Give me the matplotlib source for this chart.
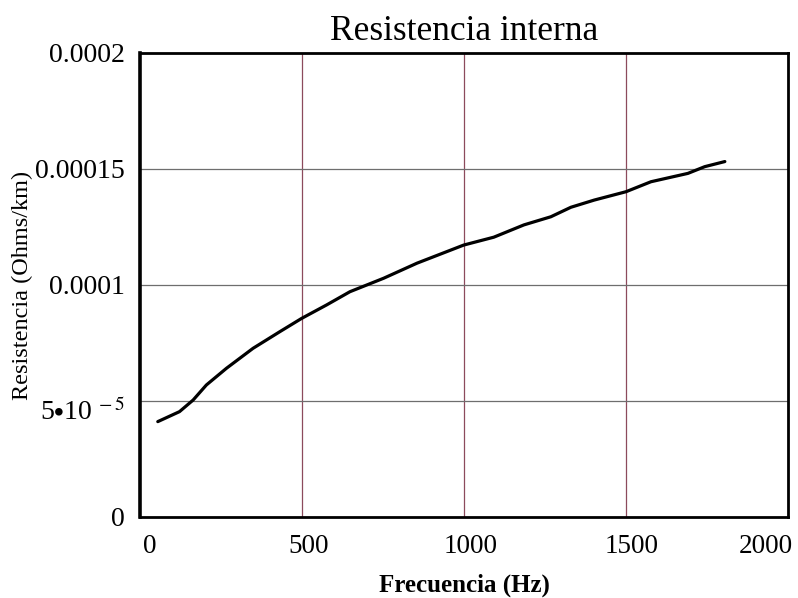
import matplotlib
matplotlib.use("Agg")
import matplotlib.pyplot as plt
from matplotlib.transforms import ScaledTranslation

# frequency (Hz) and internal resistance (Ohms/km)
freq_hz = [55, 122, 164, 205, 267, 349, 432, 499, 576, 648, 752, 855, 999,
           1092, 1185, 1268, 1330, 1402, 1500, 1577, 1691, 1743, 1805]
resist = [4.11e-5, 4.54e-5, 5.04e-5, 5.69e-5, 6.41e-5, 7.27e-5, 7.99e-5,
          8.56e-5, 9.14e-5, 9.71e-5, 1.029e-4, 1.094e-4, 1.172e-4, 1.206e-4,
          1.259e-4, 1.294e-4, 1.335e-4, 1.366e-4, 1.402e-4, 1.445e-4,
          1.481e-4, 1.510e-4, 1.532e-4]

x_ticks = [0, 500, 1000, 1500, 2000]
x_labels = ["0", "500", "1000", "1500", "2000"]
y_ticks = [0, 5e-5, 1e-4, 1.5e-4, 2e-4]
y_labels = ["0", r"5$\bullet$10$^{\;-5}$", "0.0001", "0.00015", "0.0002"]

plt.rcParams["font.family"] = ["Liberation Serif", "DejaVu Serif"]
plt.rcParams["mathtext.fontset"] = "stix"

fig = plt.figure(figsize=(7.98, 5.98), dpi=100)
ax = fig.add_axes([0.1754, 0.1355, 0.8121, 0.7759])

ax.plot(freq_hz, resist, color="black", linewidth=2.3,
        solid_capstyle="round", solid_joinstyle="round")

ax.set_xlim(0, 2000)
ax.set_ylim(0, 2e-4)
ax.set_xticks(x_ticks)
ax.set_xticklabels(x_labels, fontsize=19.5)
ax.set_yticks(y_ticks)
ax.set_yticklabels(y_labels, fontsize=20)
ax.tick_params(length=0, pad=11)
ax.tick_params(axis="x", pad=12)

# mathcad-style label offsets
offsets = [10, 7, 7, 6, -22]
for lab, dx in zip(ax.get_xticklabels(), offsets):
    lab.set_transform(lab.get_transform() + ScaledTranslation(dx / 100, 0, fig.dpi_scale_trans))
ax.get_yticklabels()[1].set_transform(
    ax.get_yticklabels()[1].get_transform() + ScaledTranslation(0, -0.08, fig.dpi_scale_trans))

for xv in x_ticks[1:-1]:
    ax.axvline(xv, color="#8c4a5c", linewidth=0.9, zorder=0)
for yv in y_ticks[1:-1]:
    ax.axhline(yv, color="#6e6e6e", linewidth=0.9, zorder=0)

for side in ax.spines.values():
    side.set_linewidth(2.0)
    side.set_color("black")
ax.spines["left"].set_linewidth(2.6)

ax.set_title("Resistencia interna", fontsize=25.5, pad=9)
ax.set_xlabel("Frecuencia (Hz)", fontsize=18, fontweight="bold")
ax.xaxis.set_label_coords(0.5, -0.122)
ax.set_ylabel("Resistencia (Ohms/km)", fontsize=17.5)
ax.yaxis.set_label_coords(-0.165, 0.5)

fig.savefig("out.png", dpi=100)
